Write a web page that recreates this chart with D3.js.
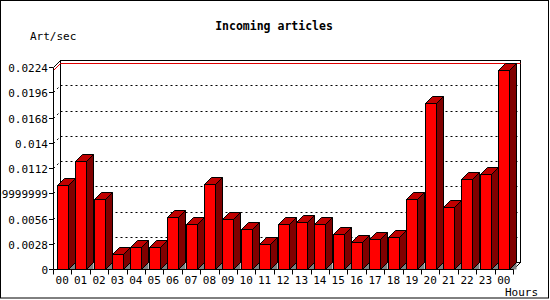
<!DOCTYPE html>
<html>
<head>
<meta charset="utf-8">
<script src="https://cdn.jsdelivr.net/npm/d3@7"></script>
<style>
  body { margin: 0; background: #fff; }
  svg { display: block; font-family: "DejaVu Sans Mono", monospace; }
</style>
</head>
<body>
<div id="chart"></div>
<script>
// Data
const hours = ['00','01','02','03','04','05','06','07','08','09','10','11',
  '12','13','14','15','16','17','18','19','20','21','22','23','00']
const articles = [0.00931, 0.01198, 0.00776, 0.00163, 0.00241, 0.00241, 0.00573,
  0.00496, 0.00943, 0.00551, 0.0044, 0.00274, 0.00496, 0.00518, 0.00496, 0.00385,
  0.00296, 0.00329, 0.00352, 0.00773, 0.01837, 0.00684, 0.00995, 0.0105, 0.02203]
const yTicks = [0, 0.0028, 0.0056, 0.0084, 0.0112, 0.014, 0.0168, 0.0196, 0.0224]
const yTickLabels = ['0', '0.0028', '0.0056', '0.0083999999999999', '0.0112',
  '0.014', '0.0168', '0.0196', '0.0224']

// Dimensions
const width = 550, height = 300
const depth = 7
const barW = 11

const svg = d3.select('#chart').append('svg')
  .attr('width', width)
  .attr('height', height)

// outer border
svg.append('rect')
  .attr('x', 0.5).attr('y', 0.5)
  .attr('width', 548).attr('height', 297.5)
  .attr('fill', 'none').attr('stroke', 'black')

// scales
const x = d3.scaleBand()
  .domain(d3.range(hours.length))
  .range([53, 513])
const y = d3.scaleLinear()
  .domain([0, 0.0224])
  .range([269, 67])

const px = v => Math.round(v) + 0.5
const x0 = x.range()[0], x1 = x.range()[1]
const y0 = y(0), yTop = y(0.0224)

// back plane
svg.append('rect')
  .attr('x', px(x0 + depth)).attr('y', px(yTop - depth))
  .attr('width', x1 - x0).attr('height', y0 - yTop)
  .attr('fill', 'white').attr('stroke', 'black')

// grid lines (dotted on the back plane)
const grid = svg.append('g')
  .attr('stroke', 'black')
  .attr('stroke-dasharray', '2,3')
yTicks.slice(1, -1).forEach(t => {
  grid.append('line')
    .attr('x1', px(x0 + depth)).attr('x2', px(x1 + depth))
    .attr('y1', px(y(t) - depth)).attr('y2', px(y(t) - depth))
  grid.append('line')
    .attr('x1', px(x0)).attr('x2', px(x0 + depth))
    .attr('y1', px(y(t))).attr('y2', px(y(t) - depth))
})

// max line
const maxV = d3.max(articles)
svg.append('path')
  .attr('d', `M${px(x0)},${px(y(maxV))}L${px(x0 + depth)},${px(y(maxV) - depth)}H${px(x1 + depth)}`)
  .attr('fill', 'none').attr('stroke', '#e00000')

// frame diagonals
svg.append('path')
  .attr('d', `M${px(x0)},${px(yTop)}L${px(x0 + depth)},${px(yTop - depth)}` +
    `M${px(x1)},${px(y0)}L${px(x1 + depth)},${px(y0 - depth)}`)
  .attr('fill', 'none').attr('stroke', 'black')

// bars
const bars = svg.append('g')
  .attr('stroke', 'black')
  .selectAll('g')
  .data(articles)
  .join('g')

const bx = (d, i) => Math.round(x(i) + x.bandwidth() / 2 - barW / 2) + 0.5
const by = d => Math.round(y(d)) + 0.5
const yb = px(y0)

bars.append('path') // shadow on the floor
  .attr('fill', '#808080').attr('stroke', 'none')
  .attr('d', (d, i) => {
    const r = bx(d, i) + barW
    return `M${r},${yb}L${r + depth},${yb - depth}L${r + depth},${yb}Z`
  })
bars.append('path') // side
  .attr('fill', '#800000')
  .attr('d', (d, i) => {
    const r = bx(d, i) + barW, t = by(d)
    return `M${r},${t}L${r + depth},${t - depth}L${r + depth},${yb - depth}L${r},${yb}Z`
  })
bars.append('path') // top
  .attr('fill', '#c00000')
  .attr('d', (d, i) => {
    const l = bx(d, i), t = by(d)
    return `M${l},${t}L${l + depth},${t - depth}L${l + barW + depth},${t - depth}L${l + barW},${t}Z`
  })
bars.append('rect') // front
  .attr('fill', '#ff0000')
  .attr('x', bx)
  .attr('y', by)
  .attr('width', barW)
  .attr('height', d => yb - by(d))

// axes lines
svg.append('path')
  .attr('d', `M${px(x0)},${px(yTop)}V${yb}H${px(x1)}`)
  .attr('fill', 'none').attr('stroke', 'black')

// y axis ticks + labels
const yAxis = svg.append('g')
yAxis.selectAll('line')
  .data(yTicks)
  .join('line')
  .attr('x1', x0 - 4).attr('x2', x0)
  .attr('y1', d => px(y(d))).attr('y2', d => px(y(d)))
  .attr('stroke', 'black')
yAxis.selectAll('text')
  .data(yTicks)
  .join('text')
  .attr('x', x0 - 5)
  .attr('y', d => Math.round(y(d)) + 4.5)
  .attr('text-anchor', 'end')
  .attr('font-size', 11)
  .text((d, i) => yTickLabels[i])

// x axis ticks + labels
const xAxis = svg.append('g')
xAxis.selectAll('line')
  .data(d3.range(hours.length + 1))
  .join('line')
  .attr('x1', i => px(x0 + i * x.step())).attr('x2', i => px(x0 + i * x.step()))
  .attr('y1', yb).attr('y2', yb + 5)
  .attr('stroke', 'black')
xAxis.selectAll('text')
  .data(hours)
  .join('text')
  .attr('x', (d, i) => x(i) + x.bandwidth() / 2)
  .attr('y', 283.5)
  .attr('text-anchor', 'middle')
  .attr('font-size', 11)
  .text(d => d)

// titles
svg.append('text')
  .attr('x', 274).attr('y', 30)
  .attr('text-anchor', 'middle')
  .attr('font-size', 11.5)
  .attr('font-weight', 'bold')
  .text('Incoming articles')
svg.append('text')
  .attr('x', 30).attr('y', 40)
  .attr('font-size', 11)
  .text('Art/sec')
svg.append('text')
  .attr('x', 505).attr('y', 296)
  .attr('font-size', 11)
  .text('Hours')
</script>
</body>
</html>
